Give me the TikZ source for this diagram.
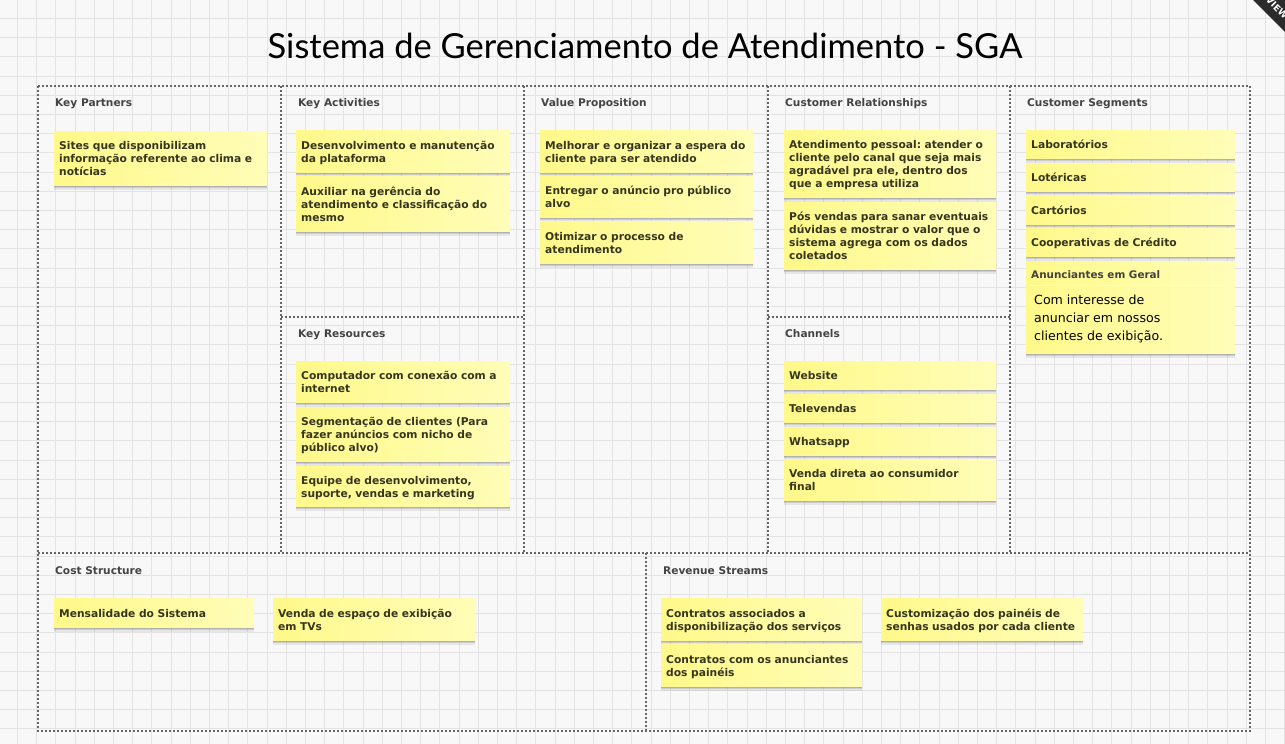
\documentclass[tikz,border=0pt]{standalone}
\usepackage{fontspec}
\setmainfont{DejaVu Sans}
\newfontfamily\titlefont{Lato}
\usetikzlibrary{shadows}
\definecolor{paper}{HTML}{F8F8F8}
\definecolor{gridline}{HTML}{E3E3E3}
\definecolor{framecol}{HTML}{666666}
\definecolor{noteA}{HTML}{FFF98A}
\definecolor{noteB}{HTML}{FFFDB8}
\definecolor{notetext}{HTML}{36361F}
\definecolor{headtext}{HTML}{444444}
\definecolor{ribbon}{HTML}{2B2B2B}
\frenchspacing

% one sticky note: name, x, y (top left), width, height, text
\newcommand\stickynote[6]{%
  \pgfmathsetmacro\notetw{#4-10}%
  \node[notebox, minimum width=#4pt, minimum height=#5pt, text width=\notetw pt] (#1) at (#2,#3)
    {\raisebox{-2pt}[\height][\depth]{\begin{tabular}{@{}l@{}}#6\end{tabular}}};}

\begin{document}
\begin{tikzpicture}[x=1pt,y=-1pt,
  frameline/.style={draw=framecol, line width=2pt, dash pattern=on 2pt off 2pt},
  blockhead/.style={anchor=base west, inner sep=0pt, font=\bfseries\fontsize{10.6}{12}\selectfont, text=headtext},
  notebox/.style={anchor=north west, left color=noteA, right color=noteB, draw=none,
    inner xsep=5pt, inner ysep=0pt, align=left,
    font=\bfseries\fontsize{10.7}{13}\selectfont, text=notetext,
    drop shadow={shadow xshift=0pt, shadow yshift=-4.5pt, opacity=0.15},
    drop shadow={shadow xshift=0pt, shadow yshift=-3pt, opacity=0.25},
    drop shadow={shadow xshift=0pt, shadow yshift=-1.5pt, opacity=0.35}},
]
% paper with grid
\fill[paper] (0,0) rectangle (1285,744);
\useasboundingbox (0,0) rectangle (1285,744);
\foreach \gx in {17.3,36.5,...,1285} \draw[gridline, line width=0.8pt] (\gx,0) -- (\gx,744);
\foreach \gy in {18.3,37.5,...,744} \draw[gridline, line width=0.8pt] (0,\gy) -- (1285,\gy);

% corner ribbon
\begin{scope}
\clip (0,0) rectangle (1285,744);
\fill[ribbon] (1253,0) -- (1285,32) -- (1285,0) -- cycle;
\node[rotate=-45, text=white, font=\bfseries\fontsize{9}{10}\selectfont, inner sep=0pt] (ribbontext) at (1277,8) {VIEW};
\end{scope}

% title
\node[anchor=base, inner sep=0pt, font=\titlefont\fontsize{34.5}{40}\selectfont, text=black] (title) at (645,58) {Sistema de Gerenciamento de Atendimento - SGA};

% canvas frame
\draw[frameline] (38,86) rectangle (1250,731);
\draw[frameline] (38,553) -- (1250,553);
\foreach \fx in {281,524,768,1010} \draw[frameline] (\fx,86) -- (\fx,553);
\draw[frameline] (281,317) -- (524,317);
\draw[frameline] (768,317) -- (1010,317);
\draw[frameline] (646,553) -- (646,731);

% block headings
\node[blockhead] (hKP) at (55,106.5) {Key Partners};
\node[blockhead] (hKA) at (298,106.5) {Key Activities};
\node[blockhead] (hVP) at (541,106.5) {Value Proposition};
\node[blockhead] (hCR) at (785,106.5) {Customer Relationships};
\node[blockhead] (hCS) at (1027,106.5) {Customer Segments};
\node[blockhead] (hKR) at (298,337.5) {Key Resources};
\node[blockhead] (hCH) at (785,337.5) {Channels};
\node[blockhead] (hCO) at (55,574.5) {Cost Structure};
\node[blockhead] (hRS) at (663,574.5) {Revenue Streams};

% Key Partners
\stickynote{kp1}{54}{131}{213}{54}{Sites que disponibilizam\\informação referente ao clima e\\notícias}
% Key Activities
\stickynote{ka1}{296}{130}{214}{42}{Desenvolvimento e manutenção\\da plataforma}
\stickynote{ka2}{296}{176}{214}{55}{Auxiliar na gerência do\\atendimento e classificação do\\mesmo}
% Key Resources
\stickynote{kr1}{296}{361}{214}{41}{Computador com conexão com a\\internet}
\stickynote{kr2}{296}{407}{214}{54}{Segmentação de clientes (Para\\fazer anúncios com nicho de\\público alvo)}
\stickynote{kr3}{296}{466}{214}{40}{Equipe de desenvolvimento,\\suporte, vendas e marketing}
% Value Proposition
\stickynote{vp1}{540}{130}{213}{42}{Melhorar e organizar a espera do\\cliente para ser atendido}
\stickynote{vp2}{540}{176}{213}{41}{Entregar o anúncio pro público\\alvo}
\stickynote{vp3}{540}{221}{213}{42}{Otimizar o processo de\\atendimento}
% Customer Relationships
\stickynote{cr1}{784}{130}{212}{67}{Atendimento pessoal: atender o\\cliente pelo canal que seja mais\\agradável pra ele, dentro dos\\que a empresa utiliza}
\stickynote{cr2}{784}{202}{212}{67}{Pós vendas para sanar eventuais\\dúvidas e mostrar o valor que o\\sistema agrega com os dados\\coletados}
% Channels
\stickynote{ch1}{784}{361}{212}{28}{Website}
\stickynote{ch2}{784}{394}{212}{28}{Televendas}
\stickynote{ch3}{784}{427}{212}{28}{Whatsapp}
\stickynote{ch4}{784}{459}{212}{41}{Venda direta ao consumidor\\final}
% Customer Segments
\stickynote{cs1}{1026}{130}{209}{28}{Laboratórios}
\stickynote{cs2}{1026}{163}{209}{28}{Lotéricas}
\stickynote{cs3}{1026}{195}{209}{29}{Cartórios}
\stickynote{cs4}{1026}{228}{209}{28}{Cooperativas de Crédito}
\stickynote{cs5}{1026}{261}{209}{92}{}
\node[anchor=base west, inner sep=0pt, font=\bfseries\fontsize{10.4}{12}\selectfont, text=headtext!85!notetext] (cs5head) at (1031,278.5) {Anunciantes em Geral};
\draw[white, opacity=0.5, line width=0.8pt] (1028,285) -- (1233,285);
\node[anchor=north west, inner sep=0pt, align=left, font=\fontsize{12.6}{18}\selectfont, text=black] (cs5body) at (1034,295) {Com interesse de\\anunciar em nossos\\clientes de exibição.};
% Cost Structure
\stickynote{co1}{54}{598}{200}{29}{Mensalidade do Sistema}
\stickynote{co2}{273}{598}{202}{42}{Venda de espaço de exibição\\em TVs}
% Revenue Streams
\stickynote{rs1}{661}{598}{201}{42}{Contratos associados a\\disponibilização dos serviços}
\stickynote{rs2}{661}{644}{201}{42}{Contratos com os anunciantes\\dos painéis}
\stickynote{rs3}{881}{598}{202}{42}{Customização dos painéis de\\senhas usados por cada cliente}
\end{tikzpicture}
\end{document}
